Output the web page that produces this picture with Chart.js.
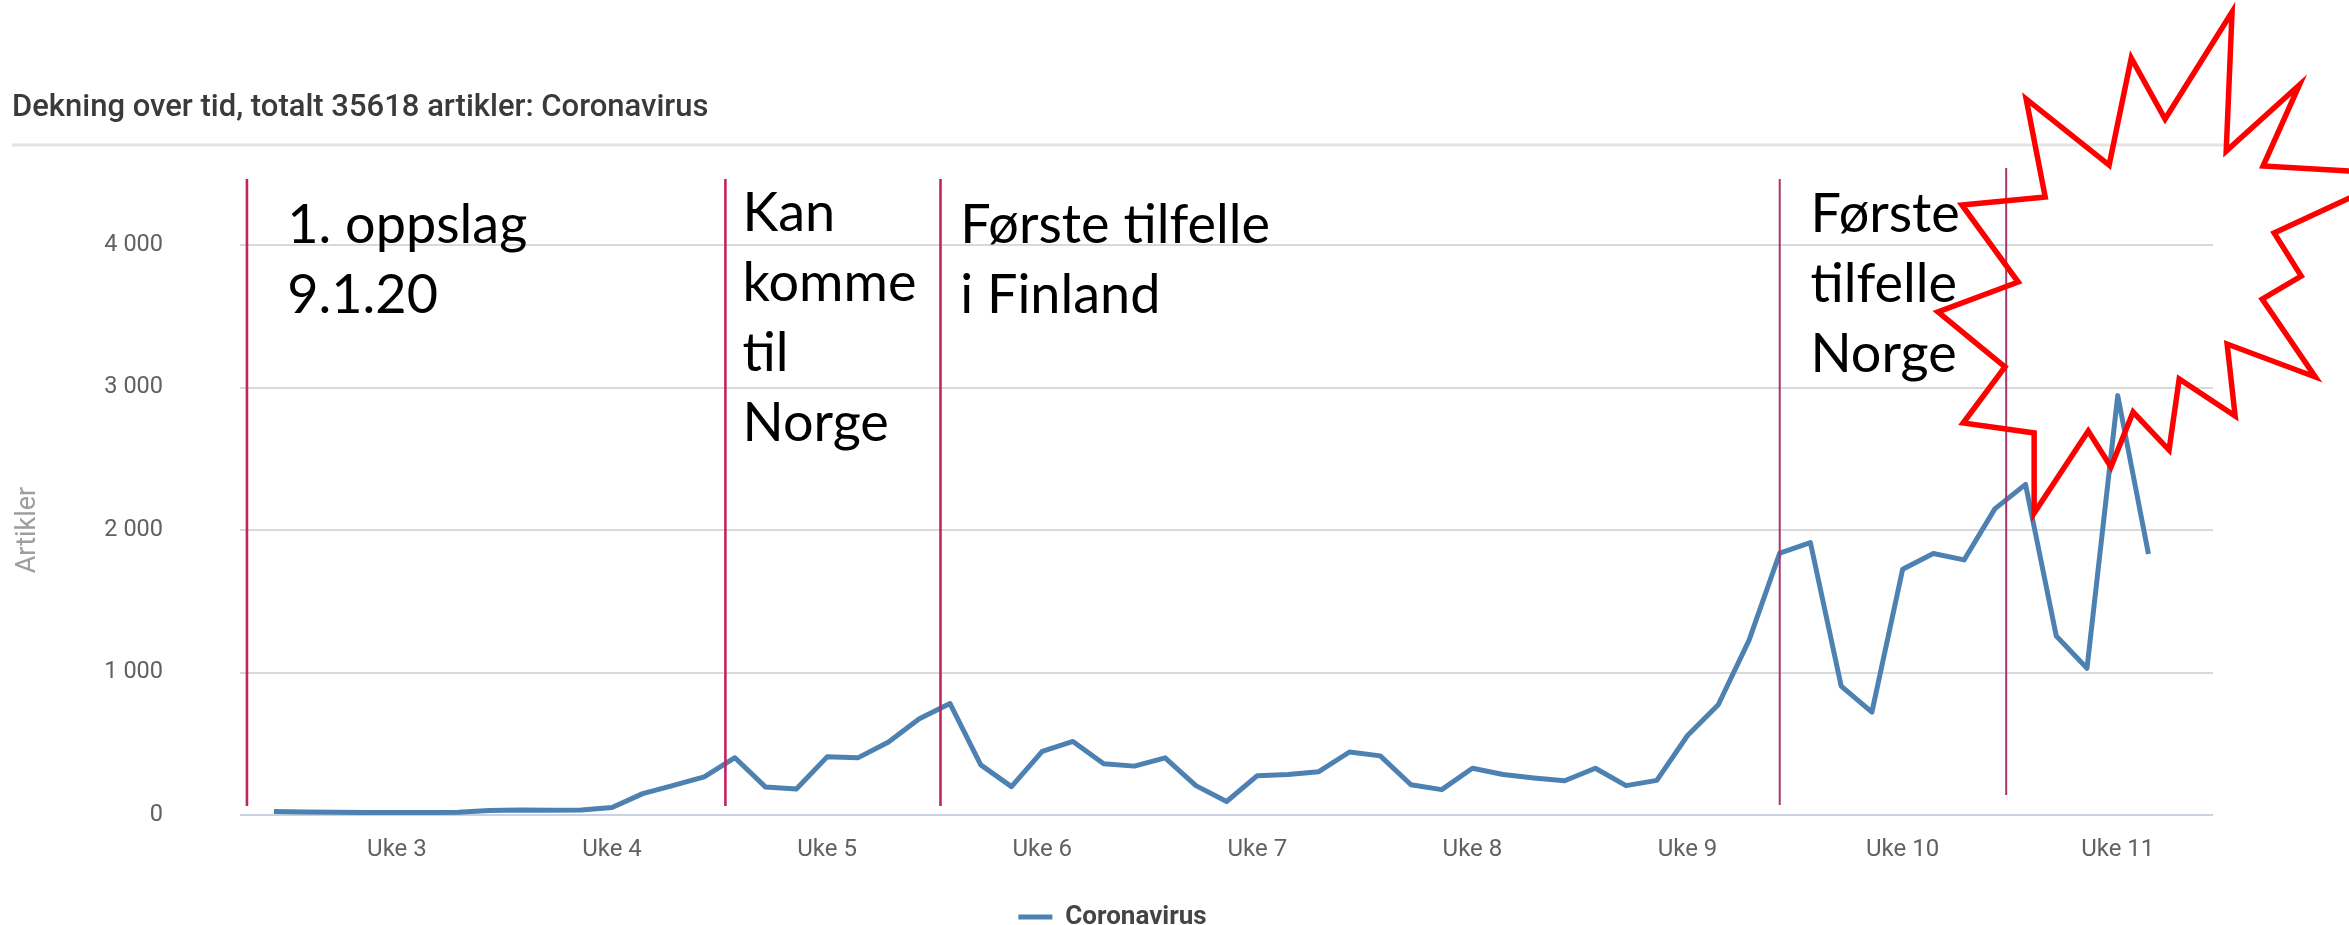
<!DOCTYPE html>
<html>
<head>
<meta charset="utf-8">
<script src="https://cdn.jsdelivr.net/npm/chart.js@4.4.1/dist/chart.umd.min.js"></script>
<style>
html, body { margin: 0; padding: 0; background: #fff; }
</style>
</head>
<body>
<canvas id="myChart" width="2349" height="925"></canvas>
<script>
// daily article count, day 0 = 9.1.20, last day = 10.3.20
const artikler = [24, 21, 19, 17, 17, 17, 19, 31, 35, 33, 35, 52, 150, 208, 268, 402, 196, 182, 408, 401,
    512, 676, 782, 352, 199, 446, 516, 360, 343, 401, 206, 95, 276, 284, 304, 442, 415, 212, 178, 328,
    284, 260, 240, 328, 206, 243, 558, 774, 1225, 1838, 1911, 905, 722, 1725, 1835, 1790, 2148, 2320, 1256, 1030,
    2943, 1832];
const ukeLabels = ['Uke 3', 'Uke 4', 'Uke 5', 'Uke 6', 'Uke 7', 'Uke 8', 'Uke 9', 'Uke 10', 'Uke 11'];
const ukeDays = [4, 11, 18, 25, 32, 39, 46, 53, 60];

// hand drawn notes on top of the chart (day, articles)
const markDays = [-0.88, 14.69, 21.69, 49.0, 56.37];
const markTop = [4463, 4463, 4463, 4463, 4540];
const markBottom = [63, 63, 63, 70, 140];
const noteDays = [0.43, 15.25, 22.33, 50.0];
const noteValues = [4014, 4098, 4014, 4091];
const noteLines = [['1. oppslag', '9.1.20'], ['Kan', 'komme', 'til', 'Norge'], ['Første tilfelle', 'i Finland'], ['Første', 'tilfelle', 'Norge']];
const starDays = [63.72, 63.53, 65.91, 64.73, 69.23, 65.09, 65.97, 64.70, 66.43, 63.56, 63.82, 62.00, 61.67, 60.50,
    59.78, 59.04, 57.28, 57.28, 54.97, 56.33, 54.15, 56.76, 54.93, 57.64, 57.02, 59.72, 60.44, 61.54];
const starValues = [5635, 4660, 5123, 4554, 4498, 4084, 3782, 3621, 3074, 3305, 2800, 3060, 2561, 2828,
    2442, 2695, 2119, 2681, 2751, 3144, 3530, 3740, 4281, 4337, 5025, 4561, 5312, 4884];

function spaced(v) {
    return String(v).replace(/\B(?=(\d{3})+(?!\d))/g, ' ');
}

const notesPlugin = {
    id: 'notes',
    beforeDraw(chart) {
        const ctx = chart.ctx;
        ctx.save();
        ctx.fillStyle = '#fff';
        ctx.fillRect(0, 0, chart.width, chart.height);
        // line under the title
        const sepY = chart.titleBlock.bottom - 100;
        ctx.strokeStyle = '#e3e3e3';
        ctx.lineWidth = 3;
        ctx.beginPath();
        ctx.moveTo(12, sepY);
        ctx.lineTo(chart.chartArea.right + 11, sepY);
        ctx.stroke();
        ctx.restore();
    },
    afterDatasetsDraw(chart) {
        const ctx = chart.ctx;
        const xs = chart.scales.x, ys = chart.scales.y;
        ctx.save();
        markDays.forEach((d, i) => {
            const x = xs.getPixelForValue(d);
            ctx.strokeStyle = i < 3 ? '#c2255c' : '#a8356a';
            ctx.lineWidth = i < 3 ? 2.6 : 2;
            ctx.beginPath();
            ctx.moveTo(x, ys.getPixelForValue(markTop[i]));
            ctx.lineTo(x, ys.getPixelForValue(markBottom[i]));
            ctx.stroke();
        });
        ctx.fillStyle = '#000';
        ctx.font = '54px Lato';
        ctx.textBaseline = 'alphabetic';
        noteDays.forEach((d, i) => {
            const x = xs.getPixelForValue(d);
            const y = ys.getPixelForValue(noteValues[i]);
            noteLines[i].forEach((t, j) => ctx.fillText(t, x, y + j * 70));
        });
        ctx.strokeStyle = '#ff0000';
        ctx.lineWidth = 5.5;
        ctx.lineJoin = 'miter';
        ctx.beginPath();
        starDays.forEach((d, i) => {
            const x = xs.getPixelForValue(d);
            const y = ys.getPixelForValue(starValues[i]);
            if (i === 0) ctx.moveTo(x, y); else ctx.lineTo(x, y);
        });
        ctx.closePath();
        ctx.stroke();
        ctx.restore();
    }
};

const ctx = document.getElementById('myChart').getContext('2d');
new Chart(ctx, {
    type: 'line',
    data: {
        datasets: [{
            label: 'Coronavirus',
            data: artikler.map((v, i) => ({ x: i, y: v })),
            borderColor: '#4c81b2',
            backgroundColor: '#4c81b2',
            borderWidth: 5,
            borderJoinStyle: 'round',
            pointRadius: 0,
            tension: 0,
            fill: false
        }]
    },
    options: {
        responsive: false,
        animation: false,
        layout: { padding: { left: 12, right: 136, top: 0, bottom: -15 } },
        plugins: {
            title: {
                display: true,
                text: 'Dekning over tid, totalt 35618 artikler: Coronavirus',
                align: 'start',
                color: '#3a3a3a',
                font: { family: 'Roboto', size: 31, weight: 500 },
                lineHeight: 1.2,
                padding: { top: 90, bottom: 117.8 }
            },
            legend: {
                position: 'bottom',
                labels: {
                    usePointStyle: true,
                    pointStyle: 'line',
                    pointStyleWidth: 34,
                    color: '#444',
                    font: { family: 'Roboto', size: 26, weight: 'bold' },
                    padding: 10
                }
            },
            tooltip: { enabled: false }
        },
        scales: {
            x: {
                type: 'linear',
                min: -1.106,
                max: 63.1,
                afterBuildTicks: axis => { axis.ticks = ukeDays.map(v => ({ value: v })); },
                afterFit: axis => { axis.height = 79; },
                grid: { display: false },
                border: { display: false },
                ticks: {
                    autoSkip: false,
                    maxRotation: 0,
                    padding: 13,
                    color: '#616161',
                    font: { family: 'Roboto', size: 24 },
                    callback: v => ukeLabels[ukeDays.indexOf(v)]
                }
            },
            y: {
                min: 0,
                max: 4000,
                afterFit: axis => { axis.width = 228; },
                border: { display: false },
                grid: {
                    drawTicks: false,
                    lineWidth: 2,
                    color: c => c.tick && c.tick.value === 0 ? '#c9d2e3' : '#d9d9d9'
                },
                ticks: {
                    stepSize: 1000,
                    padding: 77,
                    color: '#616161',
                    font: { family: 'Roboto', size: 23.5 },
                    callback: v => spaced(v)
                },
                title: {
                    display: true,
                    text: 'Artikler',
                    color: '#9e9e9e',
                    font: { family: 'Roboto', size: 27 },
                    padding: { top: 0, bottom: 0 }
                }
            }
        }
    },
    plugins: [notesPlugin]
});
</script>
</body>
</html>
